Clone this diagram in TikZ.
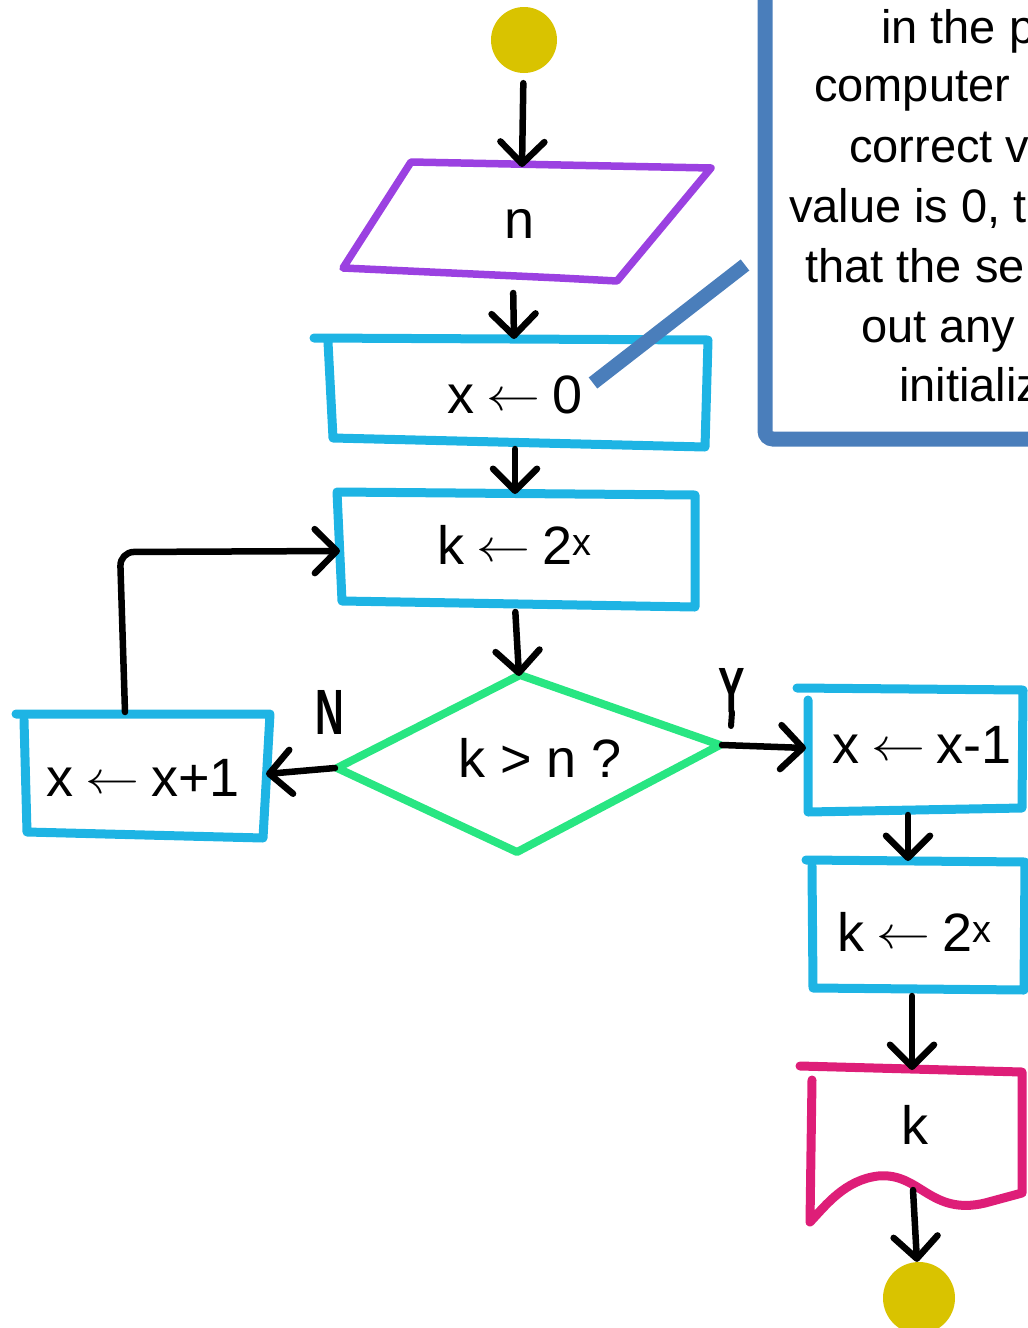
\documentclass[tikz,border=0pt]{standalone}
\usepackage{graphicx}
\usepackage{fontspec}
\setmainfont{Liberation Sans}
\usetikzlibrary{arrows.meta}
\definecolor{yel}{HTML}{D9C300}
\definecolor{purp}{HTML}{9B41E1}
\definecolor{cy}{HTML}{1EB4E4}
\definecolor{grn}{HTML}{28E682}
\definecolor{mag}{HTML}{DE1E78}
\definecolor{callblue}{HTML}{4A7EBB}
\newcommand{\myarr}{\hspace{0.22em}\raisebox{3pt}{\scalebox{5.4}[4.6]{\fontsize{10}{12}\selectfont$\leftarrow$}}\hspace{0.22em}}
\begin{document}
\begin{tikzpicture}[x=1pt,y=-1pt,
  term/.style={circle, fill=yel, inner sep=0pt, minimum size=66pt},
  cyanline/.style={draw=cy, line width=9pt, line join=round, line cap=round},
  purpline/.style={draw=purp, line width=7.5pt, line join=round, line cap=round},
  grnline/.style={draw=grn, line width=8pt, line join=round, line cap=round},
  magline/.style={draw=mag, line width=9pt, line join=round, line cap=round},
  arr/.style={draw=black, line width=6.5pt, line cap=round, line join=round,
    -{Straight Barb[length=22pt,width=44pt,round]}},
  lab/.style={font=\fontsize{54}{60}\selectfont, inner sep=0pt},
  note/.style={font=\fontsize{47}{56}\selectfont, inner sep=0pt, anchor=base west},
  hand/.style={font=\fontsize{64}{70}\selectfont\bfseries, inner sep=0pt, xscale=0.62}
]
\useasboundingbox (0,0) rectangle (1028,1328);
\clip (0,0) rectangle (1028,1328);

% ---------- callout box ----------
\draw[callblue, line width=15pt, rounded corners=8pt] (765,-30) -- (765,439) -- (1080,439);
\node[note] (c1) at (881,43) {in the p};
\node[note] (c2) at (814,101) {computer};
\node[note] (c3) at (849,162) {correct v};
\node[note] (c4) at (789,222) {value is 0, t};
\node[note] (c5) at (805,282) {that the se};
\node[note] (c6) at (861,342) {out any};
\node[note] (c7) at (899,401) {initializ};
\coordinate (callpt) at (745,265);

% ---------- start ----------
\node[term] (start) at (524,40) {};

% ---------- input parallelogram ----------
\draw[purpline] (411,162) -- (711,168) -- (617,281) -- (560,278) -- (343,268) -- cycle;
\coordinate (partop) at (522,167);
\coordinate (parbot) at (513,281);
\node[lab] (tn) at (520,224) {n};

% ---------- x <- 0 ----------
\draw[cyanline] (314,338) -- (708,340) -- (705,447) -- (333,438) -- (328,342);
\coordinate (b1top) at (514,339);
\coordinate (b1bot) at (515,445);
\node[lab] (tx0) at (515,395) {x\myarr 0};

% ---------- k <- 2^x ----------
\draw[cyanline] (337,492) -- (695,495) -- (695,607) -- (342,601) -- cycle;
\coordinate (b2top) at (515,494);
\coordinate (b2bot) at (515,606);
\coordinate (b2left) at (340,551);
\node[lab] (tk1) at (515,545) {k\myarr 2\textsuperscript{x}};

% ---------- decision ----------
\draw[grnline] (520,675) -- (720,745) -- (517,852) -- (337,768) -- cycle;
\coordinate (dtop) at (519,676);
\coordinate (dleft) at (335,768);
\coordinate (dright) at (722,745);
\node[lab] (tkn) at (540,758) {k > n ?};

% ---------- x <- x+1 ----------
\draw[cyanline] (16,714) -- (270,714) -- (263,838) -- (27,832) -- (24,720);
\coordinate (lright) at (266,774);
\coordinate (ltop) at (125,712);
\node[lab] (tx1) at (143,778) {x\myarr x+1};

% ---------- x <- x-1 ----------
\draw[cyanline] (797,688) -- (1023,690) -- (1022,808) -- (808,812) -- (808,700);
\coordinate (r1left) at (806,748);
\coordinate (r1bot) at (908,811);
\node[lab] (tx2) at (922,745) {x\myarr x-1};

% ---------- k <- 2^x (right) ----------
\draw[cyanline] (806,860) -- (1025,862) -- (1024,990) -- (813,988) -- (812,866);
\coordinate (r2top) at (908,861);
\coordinate (r2bot) at (912,990);
\node[lab] (tk2) at (915,932) {k\myarr 2\textsuperscript{x}};

% ---------- output document ----------
\draw[magline] (800,1066) -- (1022,1072) -- (1022,1193) -- (985,1203)
  .. controls (930,1216) and (920,1172) .. (878,1176)
  .. controls (845,1180) and (826,1205) .. (810,1222) -- (812,1080);
\coordinate (dtop2) at (912,1070);
\coordinate (dbot2) at (913,1190);
\node[lab] (tk3) at (915,1125) {k};

% ---------- end ----------
\node[term, minimum size=72pt] (stop) at (919,1298) {};

% ---------- connectors ----------
\draw[arr, shorten <=10pt] (start) -- (partop);
\draw[arr, shorten <=12pt] (parbot) -- (b1top);
\draw[arr, shorten <=4pt] (b1bot) -- (b2top);
\draw[arr, shorten <=6pt] (b2bot) -- (dtop);
\draw[arr] (dleft) -- (lright);
\draw[arr] (dright) -- (r1left);
\draw[arr, shorten <=4pt] (r1bot) -- (r2top);
\draw[arr, shorten <=6pt] (r2bot) -- (dtop2);
\draw[arr] (dbot2) -- (stop);
\draw[arr, rounded corners=14pt] (ltop) -- (120,552) -- (b2left);
\draw[callblue, line width=14pt] (593,383) -- (callpt);

% ---------- branch labels ----------
\node[hand] (lN) at (330,712) {N};
\node[hand] (lY) at (732,690) {Y};
\draw[black, line width=6pt, line cap=round] (lY.south) -- (731,726);
\end{tikzpicture}
\end{document}
